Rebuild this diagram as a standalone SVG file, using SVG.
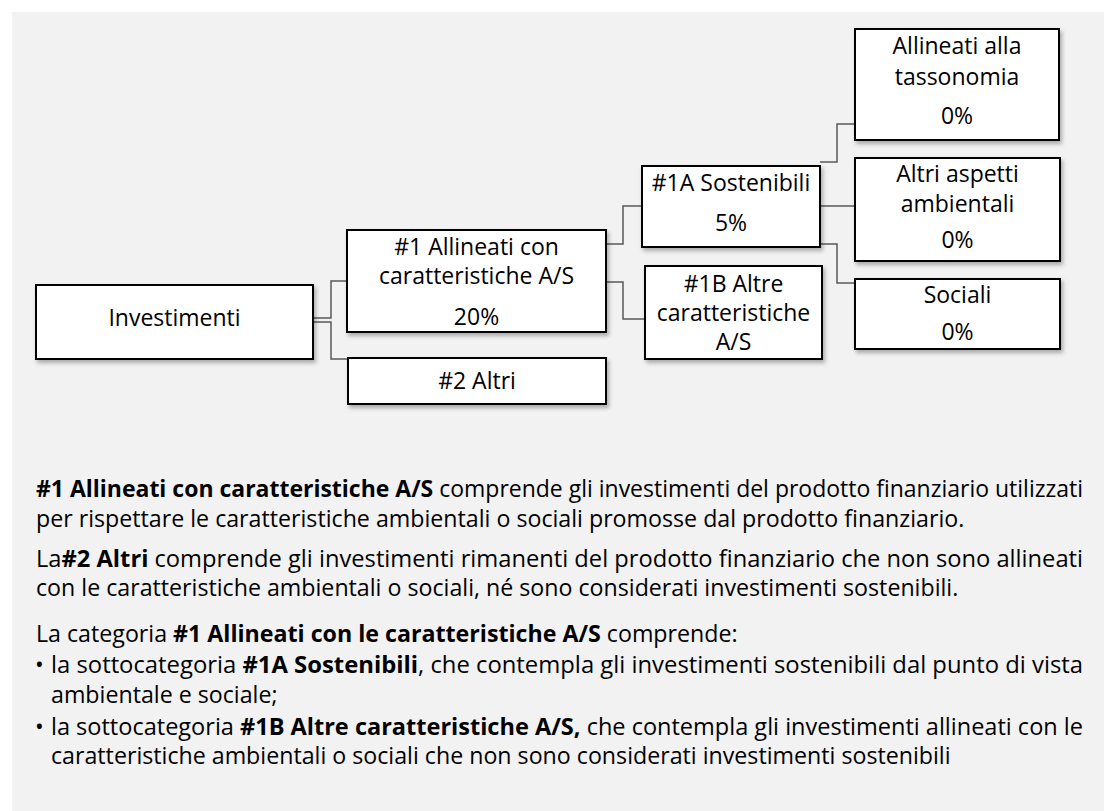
<svg xmlns="http://www.w3.org/2000/svg" width="1106" height="811" viewBox="0 0 1106 811">
<style>
.bg{fill:#f2f2f2}
.box{fill:#ffffff;stroke:#000000;stroke-width:2;filter:url(#sh)}
.nt{font-family:"Open Sans","Noto Sans","Liberation Sans",sans-serif;font-size:23px;fill:#000000;text-anchor:middle}
.bt{font-family:"Open Sans","Noto Sans","Liberation Sans",sans-serif;font-size:23.2px;fill:#000000}
.b{font-weight:bold}
.con{fill:none;stroke:#595959;stroke-width:1.5}
</style>
<defs>
<filter id="sh" x="-10%" y="-10%" width="130%" height="140%">
<feDropShadow dx="2" dy="3" stdDeviation="2" flood-color="#000000" flood-opacity="0.3"/>
</filter>
</defs>
<rect class="bg" x="12" y="12" width="1092" height="799"/>

<g id="connectors">
<path class="con" d="M313,318 H331 V281 H347"/>
<path class="con" d="M313,322 H331 V359 H348"/>
<path class="con" d="M606,244 H623 V206 H642"/>
<path class="con" d="M606,282 H623 V319 H645"/>
<path class="con" d="M820,162 H837 V124 H855"/>
<path class="con" d="M820,206 H855"/>
<path class="con" d="M820,244 H837 V283 H855"/>
</g>

<g id="investimenti">
<rect class="box" x="36" y="285" width="277" height="74"/>
<text class="nt" x="174.5" y="326">Investimenti</text>
</g>
<g id="n1">
<rect class="box" x="347" y="230" width="259" height="102"/>
<text class="nt" x="476.5" y="255">#1 Allineati con</text>
<text class="nt" x="476.5" y="284">caratteristiche A/S</text>
<text class="nt" x="476.5" y="325">20%</text>
</g>
<g id="n2">
<rect class="box" x="348" y="358" width="258" height="46"/>
<text class="nt" x="477" y="389">#2 Altri</text>
</g>
<g id="n1a">
<rect class="box" x="642" y="166" width="178" height="81"/>
<text class="nt" x="731" y="191">#1A Sostenibili</text>
<text class="nt" x="731" y="231">5%</text>
</g>
<g id="n1b">
<rect class="box" x="645" y="266" width="177" height="93"/>
<text class="nt" x="733.5" y="292">#1B Altre</text>
<text class="nt" x="733.5" y="321">caratteristiche</text>
<text class="nt" x="733.5" y="350">A/S</text>
</g>
<g id="tassonomia">
<rect class="box" x="855" y="29" width="204" height="111"/>
<text class="nt" x="957" y="54">Allineati alla</text>
<text class="nt" x="957" y="85">tassonomia</text>
<text class="nt" x="957" y="124">0%</text>
</g>
<g id="ambientali">
<rect class="box" x="855" y="158" width="205" height="103"/>
<text class="nt" x="957.5" y="182">Altri aspetti</text>
<text class="nt" x="957.5" y="212">ambientali</text>
<text class="nt" x="957.5" y="248">0%</text>
</g>
<g id="sociali">
<rect class="box" x="855" y="279" width="205" height="70"/>
<text class="nt" x="957.5" y="303">Sociali</text>
<text class="nt" x="957.5" y="340">0%</text>
</g>

<g id="legend">
<text class="bt" x="36" y="497" textLength="1047" lengthAdjust="spacingAndGlyphs"><tspan class="b">#1 Allineati con caratteristiche A/S</tspan> comprende gli investimenti del prodotto finanziario utilizzati</text>
<text class="bt" x="36" y="527">per rispettare le caratteristiche ambientali o sociali promosse dal prodotto finanziario.</text>
<text class="bt" x="36" y="567" textLength="1047" lengthAdjust="spacingAndGlyphs">La<tspan class="b">#2 Altri</tspan> comprende gli investimenti rimanenti del prodotto finanziario che non sono allineati</text>
<text class="bt" x="36" y="596">con le caratteristiche ambientali o sociali, né sono considerati investimenti sostenibili.</text>
<text class="bt" x="36" y="642">La categoria <tspan class="b">#1 Allineati con le caratteristiche A/S</tspan> comprende:</text>
<text class="bt" x="35" y="673">•</text>
<text class="bt" x="51" y="673" textLength="1032" lengthAdjust="spacingAndGlyphs">la sottocategoria <tspan class="b">#1A Sostenibili</tspan>, che contempla gli investimenti sostenibili dal punto di vista</text>
<text class="bt" x="51" y="703">ambientale e sociale;</text>
<text class="bt" x="35" y="735">•</text>
<text class="bt" x="51" y="735" textLength="1032" lengthAdjust="spacingAndGlyphs">la sottocategoria <tspan class="b">#1B Altre caratteristiche A/S,</tspan> che contempla gli investimenti allineati con le</text>
<text class="bt" x="51" y="764">caratteristiche ambientali o sociali che non sono considerati investimenti sostenibili</text>
</g>
</svg>
